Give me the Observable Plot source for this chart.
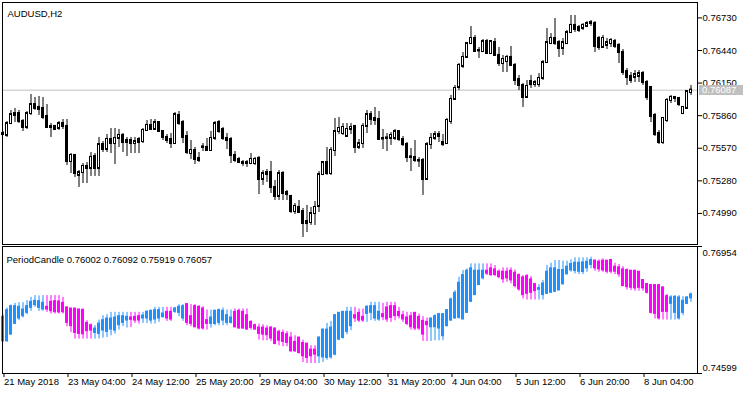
<!DOCTYPE html>
<html><head><meta charset="utf-8">
<script src="https://cdn.jsdelivr.net/npm/d3@7"></script>
<script src="https://cdn.jsdelivr.net/npm/@observablehq/plot@0.6"></script>
<style>
html,body{margin:0;padding:0;background:#fff;}
#chart{position:relative;width:750px;height:394px;overflow:hidden;background:#fff;}
#chart svg{display:block;}
</style></head><body><div id="chart"></div>
<script>
const symbolLabel = "AUDUSD,H2";
const indicatorName = "PeriodCandle";

// AUDUSD H2 bars
const barOpen = [0.75692,0.75684,0.75790,0.75862,0.75879,0.75808,0.75755,0.75879,0.75959,0.75933,0.75924,0.75853,0.75764,0.75764,0.75746,0.75790,0.75764,0.75452,0.75506,0.75328,0.75354,0.75408,0.75390,0.75497,0.75390,0.75603,0.75559,0.75648,0.75612,0.75657,0.75684,0.75639,0.75639,0.75612,0.75648,0.75630,0.75728,0.75773,0.75737,0.75799,0.75719,0.75666,0.75648,0.75612,0.75862,0.75799,0.75675,0.75523,0.75550,0.75479,0.75577,0.75577,0.75550,0.75657,0.75799,0.75737,0.75657,0.75648,0.75506,0.75470,0.75443,0.75434,0.75434,0.75434,0.75479,0.75292,0.75354,0.75354,0.75221,0.75141,0.75345,0.75176,0.75141,0.75007,0.75043,0.75007,0.74918,0.74909,0.74989,0.75052,0.75336,0.75443,0.75345,0.75550,0.75719,0.75701,0.75675,0.75737,0.75764,0.75577,0.75612,0.75764,0.75870,0.75835,0.75826,0.75657,0.75657,0.75657,0.75657,0.75719,0.75648,0.75603,0.75488,0.75488,0.75461,0.75461,0.75292,0.75603,0.75657,0.75692,0.75621,0.75612,0.75808,0.76004,0.76111,0.76298,0.76378,0.76502,0.76547,0.76440,0.76431,0.76520,0.76413,0.76511,0.76396,0.76324,0.76342,0.76378,0.76307,0.76182,0.76129,0.76022,0.76164,0.76137,0.76137,0.76191,0.76333,0.76502,0.76547,0.76511,0.76458,0.76502,0.76600,0.76663,0.76645,0.76636,0.76654,0.76680,0.76680,0.76547,0.76467,0.76485,0.76502,0.76520,0.76485,0.76422,0.76253,0.76209,0.76200,0.76209,0.76235,0.76155,0.76111,0.75862,0.75701,0.75621,0.75817,0.75995,0.76013,0.76013,0.75879,0.75924,0.76066];
const barHigh = [0.75719,0.75808,0.75906,0.75924,0.75906,0.75826,0.75897,0.76048,0.76022,0.76031,0.76022,0.75959,0.75790,0.75773,0.75808,0.75826,0.75826,0.75523,0.75514,0.75372,0.75434,0.75443,0.75532,0.75523,0.75666,0.75630,0.75692,0.75746,0.75746,0.75737,0.75701,0.75666,0.75666,0.75666,0.75666,0.75746,0.75817,0.75826,0.75826,0.75808,0.75728,0.75692,0.75701,0.75888,0.75897,0.75817,0.75719,0.75639,0.75577,0.75532,0.75612,0.75657,0.75719,0.75808,0.75817,0.75755,0.75701,0.75666,0.75541,0.75488,0.75461,0.75461,0.75523,0.75488,0.75497,0.75372,0.75381,0.75452,0.75283,0.75372,0.75363,0.75194,0.75150,0.75078,0.75105,0.75034,0.75061,0.75043,0.75096,0.75363,0.75452,0.75577,0.75577,0.75835,0.75844,0.75790,0.75790,0.75790,0.75773,0.75648,0.75790,0.75906,0.75897,0.75933,0.75897,0.75737,0.75701,0.75710,0.75737,0.75728,0.75675,0.75621,0.75568,0.75639,0.75488,0.75479,0.75621,0.75701,0.75719,0.75719,0.75692,0.75835,0.76040,0.76129,0.76324,0.76422,0.76511,0.76654,0.76574,0.76467,0.76538,0.76538,0.76529,0.76547,0.76467,0.76396,0.76396,0.76476,0.76324,0.76218,0.76146,0.76173,0.76218,0.76173,0.76235,0.76351,0.76636,0.76591,0.76725,0.76529,0.76547,0.76618,0.76752,0.76752,0.76663,0.76680,0.76698,0.76707,0.76698,0.76565,0.76574,0.76547,0.76547,0.76538,0.76502,0.76449,0.76280,0.76244,0.76262,0.76262,0.76253,0.76173,0.76120,0.75879,0.75728,0.75844,0.76013,0.76040,0.76031,0.76022,0.75942,0.76084,0.76129];
const barLow = [0.75684,0.75666,0.75781,0.75799,0.75790,0.75719,0.75737,0.75862,0.75906,0.75862,0.75826,0.75746,0.75666,0.75728,0.75728,0.75737,0.75417,0.75345,0.75310,0.75221,0.75256,0.75256,0.75319,0.75319,0.75319,0.75532,0.75532,0.75523,0.75425,0.75577,0.75532,0.75497,0.75523,0.75523,0.75523,0.75612,0.75719,0.75728,0.75728,0.75710,0.75639,0.75612,0.75568,0.75603,0.75773,0.75612,0.75514,0.75470,0.75425,0.75443,0.75541,0.75541,0.75541,0.75639,0.75701,0.75639,0.75559,0.75434,0.75443,0.75434,0.75408,0.75399,0.75425,0.75417,0.75158,0.75239,0.75265,0.75167,0.75105,0.75105,0.75105,0.75105,0.74989,0.74980,0.74989,0.74776,0.74820,0.74883,0.74883,0.74998,0.75328,0.75328,0.75328,0.75497,0.75692,0.75684,0.75666,0.75692,0.75523,0.75559,0.75568,0.75701,0.75773,0.75773,0.75639,0.75559,0.75541,0.75595,0.75639,0.75630,0.75586,0.75443,0.75363,0.75443,0.75399,0.75150,0.75283,0.75559,0.75639,0.75621,0.75586,0.75603,0.75781,0.75995,0.76084,0.76280,0.76378,0.76493,0.76422,0.76369,0.76422,0.76404,0.76404,0.76387,0.76298,0.76244,0.76244,0.76298,0.76129,0.76084,0.75933,0.76013,0.76102,0.76111,0.76111,0.76173,0.76324,0.76493,0.76485,0.76378,0.76396,0.76493,0.76591,0.76600,0.76600,0.76618,0.76645,0.76654,0.76422,0.76440,0.76458,0.76449,0.76467,0.76458,0.76324,0.76218,0.76129,0.76146,0.76155,0.76155,0.76129,0.75995,0.75799,0.75675,0.75603,0.75603,0.75799,0.75968,0.75977,0.75942,0.75870,0.75915,0.76040];
const barClose = [0.75701,0.75790,0.75870,0.75879,0.75808,0.75755,0.75879,0.75959,0.75924,0.75915,0.75844,0.75755,0.75755,0.75737,0.75790,0.75764,0.75452,0.75506,0.75345,0.75354,0.75408,0.75390,0.75488,0.75390,0.75603,0.75559,0.75648,0.75612,0.75657,0.75684,0.75621,0.75621,0.75612,0.75630,0.75621,0.75728,0.75773,0.75737,0.75799,0.75719,0.75666,0.75639,0.75612,0.75870,0.75790,0.75666,0.75532,0.75550,0.75470,0.75461,0.75582,0.75550,0.75657,0.75790,0.75719,0.75657,0.75639,0.75506,0.75461,0.75443,0.75434,0.75443,0.75470,0.75470,0.75292,0.75345,0.75336,0.75221,0.75141,0.75345,0.75167,0.75158,0.75007,0.75052,0.74998,0.74900,0.74900,0.74989,0.75043,0.75336,0.75443,0.75345,0.75550,0.75719,0.75746,0.75755,0.75737,0.75755,0.75577,0.75612,0.75764,0.75870,0.75826,0.75817,0.75648,0.75652,0.75662,0.75684,0.75719,0.75648,0.75603,0.75488,0.75493,0.75461,0.75456,0.75292,0.75603,0.75657,0.75692,0.75675,0.75603,0.75817,0.76004,0.76102,0.76307,0.76378,0.76502,0.76547,0.76431,0.76436,0.76520,0.76413,0.76520,0.76396,0.76324,0.76360,0.76378,0.76307,0.76173,0.76129,0.76022,0.76120,0.76137,0.76155,0.76191,0.76333,0.76511,0.76547,0.76502,0.76458,0.76511,0.76600,0.76663,0.76627,0.76618,0.76663,0.76680,0.76689,0.76476,0.76467,0.76547,0.76511,0.76529,0.76476,0.76422,0.76244,0.76200,0.76173,0.76226,0.76235,0.76155,0.76022,0.75853,0.75692,0.75621,0.75835,0.75995,0.76022,0.76022,0.75959,0.75933,0.76075,0.76087];

// PeriodCandle indicator values
const pcOpen = [0.75206,0.75206,0.75330,0.75528,0.75628,0.75671,0.75733,0.75826,0.75876,0.75826,0.75795,0.75826,0.75919,0.75931,0.75925,0.75900,0.75814,0.75795,0.75795,0.75776,0.75770,0.75528,0.75485,0.75361,0.75342,0.75404,0.75380,0.75423,0.75404,0.75504,0.75547,0.75590,0.75628,0.75640,0.75652,0.75628,0.75628,0.75590,0.75609,0.75628,0.75652,0.75733,0.75733,0.75752,0.75733,0.75628,0.75876,0.75652,0.75838,0.75826,0.75795,0.75578,0.75528,0.75528,0.75547,0.75590,0.75547,0.75547,0.75733,0.75752,0.75733,0.75671,0.75547,0.75485,0.75442,0.75442,0.75423,0.75442,0.75423,0.75361,0.75342,0.75318,0.75256,0.75175,0.75256,0.75156,0.75144,0.75032,0.75032,0.74927,0.74908,0.74896,0.74908,0.74958,0.75237,0.75268,0.75380,0.75485,0.75671,0.75714,0.75640,0.75714,0.75733,0.75628,0.75609,0.75690,0.75814,0.75838,0.75838,0.75733,0.75671,0.75628,0.75652,0.75714,0.75640,0.75566,0.75547,0.75466,0.75466,0.75442,0.75299,0.75485,0.75590,0.75628,0.75640,0.75609,0.75733,0.75938,0.76062,0.76248,0.76372,0.76496,0.76539,0.76520,0.76477,0.76477,0.76477,0.76496,0.76458,0.76415,0.76372,0.76396,0.76334,0.76248,0.76161,0.76062,0.76086,0.76105,0.76124,0.76148,0.76260,0.76446,0.76520,0.76508,0.76496,0.76490,0.76558,0.76620,0.76682,0.76663,0.76682,0.76682,0.76694,0.76570,0.76558,0.76520,0.76508,0.76496,0.76496,0.76477,0.76322,0.76248,0.76229,0.76229,0.76229,0.76186,0.76024,0.75900,0.75733,0.75628,0.75733,0.75900,0.76002];
const pcHigh = [0.75690,0.75814,0.75869,0.75900,0.75913,0.75913,0.75950,0.76012,0.76043,0.76037,0.76043,0.76043,0.76043,0.76043,0.76043,0.76012,0.75838,0.75795,0.75795,0.75795,0.75795,0.75578,0.75516,0.75485,0.75590,0.75671,0.75690,0.75733,0.75733,0.75733,0.75733,0.75733,0.75733,0.75733,0.75733,0.75733,0.75764,0.75776,0.75826,0.75826,0.75826,0.75826,0.75826,0.75826,0.75876,0.75876,0.75888,0.75876,0.75876,0.75857,0.75838,0.75776,0.75776,0.75776,0.75795,0.75814,0.75776,0.75776,0.75795,0.75795,0.75795,0.75795,0.75578,0.75516,0.75516,0.75504,0.75485,0.75466,0.75442,0.75404,0.75404,0.75380,0.75361,0.75299,0.75268,0.75218,0.75144,0.75113,0.75113,0.75280,0.75423,0.75528,0.75566,0.75690,0.75733,0.75733,0.75826,0.75826,0.75826,0.75795,0.75795,0.75857,0.75919,0.75919,0.75919,0.75900,0.75919,0.75919,0.75919,0.75826,0.75752,0.75733,0.75733,0.75733,0.75702,0.75652,0.75628,0.75628,0.75690,0.75714,0.75714,0.75776,0.76000,0.76136,0.76384,0.76508,0.76539,0.76632,0.76632,0.76632,0.76632,0.76632,0.76632,0.76601,0.76520,0.76558,0.76558,0.76558,0.76520,0.76446,0.76415,0.76434,0.76396,0.76260,0.76248,0.76322,0.76601,0.76644,0.76694,0.76694,0.76682,0.76682,0.76706,0.76744,0.76744,0.76744,0.76744,0.76756,0.76706,0.76706,0.76725,0.76694,0.76706,0.76644,0.76620,0.76582,0.76539,0.76508,0.76496,0.76477,0.76334,0.76272,0.76248,0.76248,0.76248,0.76198,0.76062,0.76043,0.76043,0.76043,0.76024,0.76024,0.76092];
const pcLow = [0.75175,0.75175,0.75311,0.75516,0.75578,0.75628,0.75690,0.75752,0.75826,0.75752,0.75752,0.75733,0.75702,0.75702,0.75702,0.75702,0.75466,0.75361,0.75237,0.75237,0.75237,0.75237,0.75237,0.75237,0.75237,0.75256,0.75268,0.75299,0.75330,0.75404,0.75466,0.75442,0.75454,0.75528,0.75516,0.75528,0.75528,0.75516,0.75516,0.75547,0.75628,0.75566,0.75566,0.75714,0.75652,0.75566,0.75485,0.75466,0.75442,0.75404,0.75404,0.75404,0.75442,0.75485,0.75485,0.75485,0.75485,0.75516,0.75442,0.75423,0.75423,0.75404,0.75404,0.75404,0.75218,0.75206,0.75206,0.75194,0.75132,0.75113,0.75094,0.75094,0.74989,0.74989,0.74958,0.74803,0.74784,0.74784,0.74784,0.74784,0.74803,0.74846,0.74865,0.74927,0.75206,0.75237,0.75318,0.75392,0.75547,0.75547,0.75547,0.75547,0.75578,0.75566,0.75566,0.75578,0.75547,0.75547,0.75578,0.75609,0.75547,0.75485,0.75404,0.75392,0.75392,0.75194,0.75194,0.75194,0.75206,0.75206,0.75206,0.75466,0.75566,0.75609,0.75609,0.75609,0.75714,0.75919,0.76043,0.76229,0.76334,0.76415,0.76396,0.76396,0.76353,0.76272,0.76291,0.76260,0.76186,0.76124,0.75981,0.75962,0.75962,0.75962,0.75962,0.75962,0.76062,0.76086,0.76105,0.76136,0.76248,0.76434,0.76477,0.76446,0.76434,0.76434,0.76477,0.76539,0.76496,0.76477,0.76477,0.76446,0.76446,0.76434,0.76384,0.76210,0.76148,0.76136,0.76124,0.76124,0.76124,0.76074,0.75702,0.75609,0.75590,0.75590,0.75590,0.75590,0.75590,0.75590,0.75671,0.75876,0.75919];
const pcClose = [0.75640,0.75764,0.75838,0.75838,0.75826,0.75776,0.75838,0.75919,0.75938,0.75931,0.75900,0.75795,0.75764,0.75745,0.75740,0.75745,0.75547,0.75485,0.75361,0.75342,0.75335,0.75392,0.75404,0.75423,0.75516,0.75578,0.75609,0.75609,0.75628,0.75652,0.75652,0.75640,0.75603,0.75590,0.75590,0.75665,0.75733,0.75752,0.75764,0.75764,0.75702,0.75628,0.75609,0.75795,0.75826,0.75838,0.75547,0.75528,0.75466,0.75442,0.75442,0.75528,0.75628,0.75752,0.75764,0.75752,0.75671,0.75628,0.75466,0.75442,0.75442,0.75423,0.75454,0.75423,0.75342,0.75330,0.75318,0.75256,0.75156,0.75218,0.75194,0.75175,0.75020,0.75020,0.74989,0.74927,0.74896,0.74927,0.74958,0.75256,0.75404,0.75404,0.75442,0.75671,0.75714,0.75733,0.75733,0.75733,0.75628,0.75590,0.75590,0.75826,0.75838,0.75838,0.75733,0.75652,0.75609,0.75640,0.75671,0.75671,0.75609,0.75528,0.75466,0.75442,0.75442,0.75330,0.75504,0.75609,0.75652,0.75690,0.75690,0.75764,0.75962,0.76086,0.76272,0.76415,0.76496,0.76539,0.76496,0.76496,0.76496,0.76458,0.76434,0.76434,0.76396,0.76353,0.76372,0.76334,0.76229,0.76167,0.76062,0.76086,0.76105,0.76136,0.76173,0.76260,0.76477,0.76539,0.76539,0.76508,0.76508,0.76570,0.76620,0.76644,0.76644,0.76650,0.76663,0.76694,0.76558,0.76539,0.76520,0.76496,0.76496,0.76496,0.76446,0.76229,0.76210,0.76198,0.76186,0.76198,0.76186,0.76105,0.75733,0.75714,0.75628,0.75752,0.75752,0.76000,0.76012,0.76000,0.75938,0.76000,0.76057];

// Axis ticks and labels
const timeTickBars = [0,16,32,48,64,80,96,112,128,144,160];
const timeTickLabels = ["21 May 2018","23 May 04:00","24 May 12:00","25 May 20:00","29 May 04:00","30 May 12:00","31 May 20:00","4 Jun 04:00","5 Jun 12:00","6 Jun 20:00","8 Jun 04:00"];
const priceTicks = [0.74990,0.75280,0.75570,0.75860,0.76150,0.76440,0.76730];
const priceExtent = [0.747134,0.768672];
const pcExtent = [0.74599,0.76954];
const lastPrice = 0.76087;

const bullColor = "#1e90ff", bearColor = "#ff00ff";
const fmt = d3.format(".5f");
const fontFamily = "'Liberation Sans', Arial, sans-serif";

const bars = barOpen.map((o, i) => ({i, o, h: barHigh[i], l: barLow[i], c: barClose[i]}));
const pcs = pcOpen.map((o, i) => ({i, o, h: pcHigh[i], l: pcLow[i], c: pcClose[i]}));
const n = bars.length;

const style = {fontFamily, fontSize: "9.5px", color: "black", background: "white", overflow: "visible"};
const xOpt = {type: "linear", domain: [0, n - 1], range: [2.5, 690.5]};

const topChart = Plot.plot({
  width: 750, height: 246,
  marginTop: 2, marginBottom: 2, marginLeft: 2, marginRight: 53,
  x: {...xOpt, axis: null},
  y: {domain: priceExtent},
  color: {type: "identity"},
  style,
  marks: [
    Plot.ruleY([lastPrice], {stroke: "#c0c0c0"}),
    Plot.ruleX(bars, {x: "i", y1: "l", y2: "h", stroke: "black"}),
    Plot.rect(bars, {x1: d => d.i - 0.25, x2: d => d.i + 0.25,
      y1: d => Math.min(d.o, d.c), y2: d => Math.max(d.o, d.c),
      insetTop: -0.5, insetBottom: -0.5,
      fill: d => d.c >= d.o ? "white" : "black", stroke: "black"}),
    Plot.frame({stroke: "black"}),
    Plot.axisY(priceTicks, {anchor: "right", tickSize: 4, tickPadding: 1, tickFormat: fmt, fill: "black", label: null}),
    (index, scales, values, dimensions) => {
      const y = scales.y(lastPrice);
      const x0 = dimensions.width - dimensions.marginRight + 2;
      const g = d3.create("svg:g");
      g.append("rect").attr("x", x0).attr("y", Math.round(y) - 5).attr("width", 44).attr("height", 10).attr("fill", "#c0c0c0");
      g.append("text").attr("x", x0 + 3).attr("y", y).attr("dy", "0.32em").attr("fill", "white")
        .attr("text-anchor", "start")
        .attr("font-family", fontFamily).attr("font-size", "9.5px").text(fmt(lastPrice));
      return g.node();
    },
    Plot.text([symbolLabel], {frameAnchor: "top-left", dx: 5, dy: 8, textAnchor: "start", text: d => d, fill: "black"})
  ]
});

const last = pcs[n - 1];
const pcLabel = `${indicatorName} ${fmt(last.o)} ${fmt(last.h)} ${fmt(last.l)} ${fmt(last.c)}`;

const bottomChart = Plot.plot({
  width: 750, height: 148,
  marginTop: 0, marginBottom: 21, marginLeft: 2, marginRight: 53,
  x: {...xOpt},
  y: {domain: pcExtent},
  color: {type: "identity"},
  style,
  marks: [
    Plot.ruleX(pcs, {x: "i", y1: "l", y2: "h", stroke: d => d.c >= d.o ? bullColor : bearColor}),
    Plot.rect(pcs, {x1: d => d.i - 0.25, x2: d => d.i + 0.25,
      y1: d => Math.min(d.o, d.c), y2: d => Math.max(d.o, d.c),
      insetTop: -0.5, insetBottom: -0.5,
      fill: d => d.c >= d.o ? bullColor : bearColor, stroke: d => d.c >= d.o ? bullColor : bearColor}),
    Plot.frame({stroke: "black"}),
    Plot.axisY(pcExtent, {anchor: "right", tickSize: 4, tickFormat: () => "", label: null}),
    Plot.text([pcExtent[1]], {y: d => d, text: d => fmt(d), frameAnchor: "right", dx: 5, dy: 6, textAnchor: "start", fill: "black"}),
    Plot.text([pcExtent[0]], {y: d => d, text: d => fmt(d), frameAnchor: "right", dx: 5, dy: -6, textAnchor: "start", fill: "black"}),
    Plot.axisX(timeTickBars, {anchor: "bottom", tickSize: 4, tickPadding: 1, textAnchor: "start", dx: 1, label: null,
      tickFormat: d => timeTickLabels[timeTickBars.indexOf(d)], fill: "black"}),
    Plot.text([pcLabel], {frameAnchor: "top-left", dx: 4, dy: 9.5, textAnchor: "start", text: d => d, fill: "black"})
  ]
});

const root = document.getElementById("chart");
root.append(topChart, bottomChart);
</script>
</body></html>
